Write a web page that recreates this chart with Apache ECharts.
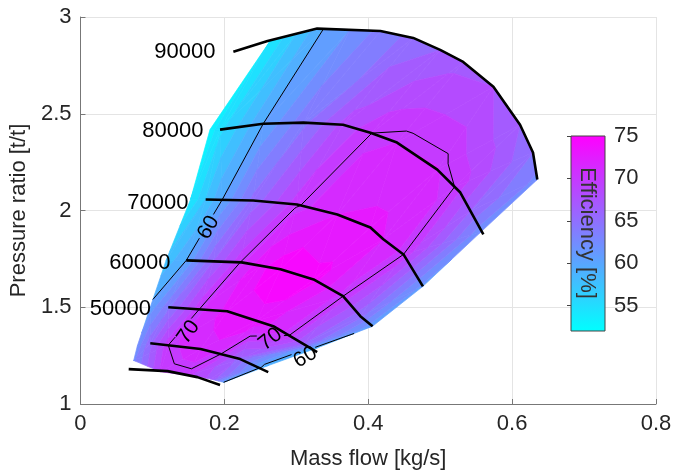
<!DOCTYPE html>
<html><head><meta charset="utf-8">
<script src="https://cdn.jsdelivr.net/npm/echarts@6/dist/echarts.min.js"></script>
<style>html,body{margin:0;padding:0;background:#fff}#c{width:677px;height:475px}</style>
</head><body><div id="c"></div>
<script>
// ---------- axis ticks ----------
const xTicks = [0, 0.2, 0.4, 0.6, 0.8];
const yTicks = [1, 1.5, 2, 2.5, 3];
const cbarTicks = [55, 60, 65, 70, 75];
const cbarRange = [52, 75];

// ---------- speed lines [mass flow, pressure ratio] ----------
const speed30 = [[0.067,1.180],[0.121,1.170],[0.1625,1.139],[0.194,1.098]];
const speed40 = [[0.097,1.314],[0.167,1.284],[0.222,1.232],[0.261,1.165]];
const speed50 = [[0.122,1.500],[0.204,1.479],[0.268,1.402],[0.329,1.268]];
const speed60 = [[0.147,1.742],[0.224,1.732],[0.278,1.696],[0.324,1.644],[0.365,1.557],[0.389,1.454],[0.406,1.402]];
const speed70 = [[0.174,2.057],[0.240,2.052],[0.301,2.031],[0.357,1.979],[0.403,1.912],[0.421,1.851],[0.449,1.773],[0.476,1.608]];
const speed80 = [[0.194,2.418],[0.254,2.448],[0.310,2.454],[0.365,2.443],[0.403,2.402],[0.440,2.351],[0.496,2.211],[0.528,2.093],[0.560,1.876]];
const speed90 = [[0.2125,2.820],[0.260,2.876],[0.329,2.940],[0.417,2.928],[0.4625,2.892],[0.500,2.830],[0.532,2.768],[0.574,2.639],[0.611,2.443],[0.629,2.300],[0.635,2.160]];

// speed line labels
const speedLabelText = ['50000','60000','70000','80000','90000'];
const speedLabelPos  = [[0.098,1.490],[0.125,1.727],[0.150,2.041],[0.171,2.412],[0.1875,2.820]];

// ---------- efficiency samples along each speed line [x, y, eff %] ----------
const eff30 = [[0.074,1.225,62.5],[0.111,1.167,69.2],[0.150,1.148,69.5],[0.181,1.129,67],[0.199,1.112,60]];
const eff40 = [[0.079,1.300,62],[0.097,1.314,65.5],[0.122,1.304,70],[0.167,1.284,71.5],[0.195,1.258,70],[0.222,1.232,65.5],[0.262,1.200,59]];
const eff50 = [[0.097,1.500,60.5],[0.122,1.500,64],[0.165,1.489,70],[0.204,1.479,72.5],[0.245,1.430,73],[0.290,1.354,70],[0.310,1.310,66],[0.329,1.290,59]];
const eff60 = [[0.119,1.742,57.5],[0.147,1.742,60],[0.185,1.738,66],[0.222,1.732,70],[0.250,1.715,73],[0.278,1.696,74.5],[0.324,1.644,74],[0.365,1.557,70],[0.389,1.454,65],[0.406,1.402,60.5]];
const eff70 = [[0.153,2.057,54],[0.174,2.057,57],[0.197,2.056,60],[0.240,2.052,65],[0.301,2.031,69.8],[0.357,1.979,72],[0.403,1.912,72.5],[0.421,1.851,72],[0.449,1.773,70],[0.476,1.608,61]];
const eff80 = [[0.180,2.418,53],[0.194,2.418,55],[0.254,2.448,60],[0.310,2.454,64],[0.365,2.443,68],[0.405,2.400,70],[0.440,2.351,70.5],[0.496,2.211,70.6],[0.520,2.122,70],[0.542,1.998,66],[0.556,1.887,62]];
const eff90 = [[0.264,2.878,54],[0.300,2.913,57],[0.338,2.940,60],[0.375,2.935,61.5],[0.417,2.928,63.5],[0.4625,2.892,65],[0.500,2.830,66],[0.532,2.768,67],[0.574,2.639,67.5],[0.611,2.443,66],[0.629,2.300,64.5],[0.635,2.160,62.5]];

// contour lines and their labels
const contourLevels = [60, 70];
const contourLabelText = ['60','70','70','60'];
const contourLabelPos  = [[0.178,1.912,60],[0.150,1.371,55],[0.264,1.335,38],[0.3125,1.242,30]];

// filled-contour level spacing (%)
const bandStep = 1.5;
const bandAnchor = 60;

// ---------- helpers ----------
const FONT = '"Liberation Sans", Arial, Helvetica, sans-serif';
const TXT = '#262626';
function cool(v){
  let t = (v - cbarRange[0]) / (cbarRange[1] - cbarRange[0]);
  t = Math.max(0, Math.min(1, t));
  return 'rgb(' + Math.round(255*t) + ',' + Math.round(255*(1-t)) + ',255)';
}
const bands = [];
{
  let L = bandAnchor;
  while (L - bandStep > cbarRange[0]) L -= bandStep;
  bands.push({lo:-Infinity, hi:L, color:cool((cbarRange[0] + L) / 2)});
  while (L < cbarRange[1]) {
    const hi = L + bandStep;
    bands.push({lo:L, hi:(hi >= cbarRange[1] ? Infinity : hi), color:cool(Math.min(L + bandStep/2, cbarRange[1]))});
    L = hi;
  }
}
function rowParams(r){
  const s = [0];
  for (let i = 1; i < r.length; i++) {
    s.push(s[i-1] + Math.hypot((r[i][0]-r[i-1][0])*720, (r[i][1]-r[i-1][1])*194));
  }
  const T = s[s.length-1];
  return s.map(v => v / T);
}
function stitch(A, B, out){
  const sa = rowParams(A), sb = rowParams(B);
  let i = 0, j = 0;
  while (i < A.length-1 || j < B.length-1) {
    if (i === A.length-1 || (j < B.length-1 && sb[j+1] <= sa[i+1])) {
      out.push([...A[i], ...B[j+1], ...B[j]]); j++;
    } else {
      out.push([...A[i], ...A[i+1], ...B[j]]); i++;
    }
  }
}
const rows = [eff30, eff40, eff50, eff60, eff70, eff80, eff90];
const tris = [];
for (let k = 0; k < rows.length-1; k++) stitch(rows[k], rows[k+1], tris);

function clip(poly, L, above){
  const out = [];
  for (let i = 0; i < poly.length; i++) {
    const a = poly[i], b = poly[(i+1) % poly.length];
    const ia = above ? a[2] >= L : a[2] <= L;
    const ib = above ? b[2] >= L : b[2] <= L;
    if (ia) out.push(a);
    if (ia !== ib) {
      const t = (L - a[2]) / (b[2] - a[2]);
      out.push([a[0]+t*(b[0]-a[0]), a[1]+t*(b[1]-a[1]), L]);
    }
  }
  return out;
}
function triPts(api){
  return [0,1,2].map(k => {
    const c = api.coord([api.value(3*k), api.value(3*k+1)]);
    return [c[0], c[1], api.value(3*k+2)];
  });
}
function renderFill(params, api){
  const P = triPts(api);
  const ch = [];
  for (const b of bands) {
    let p = P;
    if (isFinite(b.lo)) p = clip(p, b.lo, true);
    if (p.length < 3) continue;
    if (isFinite(b.hi)) p = clip(p, b.hi, false);
    if (p.length < 3) continue;
    ch.push({type:'polygon', shape:{points:p.map(q => [q[0], q[1]])},
      style:{fill:b.color, stroke:b.color, lineWidth:0.7}});
  }
  return {type:'group', children:ch};
}
// gaps in contour lines under their labels
const GAP_R = 14;
function cutSegment(p0, p1, centers){
  let pieces = [[0, 1]];
  const dx = p1[0]-p0[0], dy = p1[1]-p0[1];
  const A = dx*dx + dy*dy;
  if (A < 1e-9) return [];
  for (const c of centers) {
    const fx = p0[0]-c[0], fy = p0[1]-c[1];
    const B = 2*(fx*dx + fy*dy), C = fx*fx + fy*fy - GAP_R*GAP_R;
    const D = B*B - 4*A*C;
    if (D <= 0) continue;
    const t1 = (-B - Math.sqrt(D)) / (2*A), t2 = (-B + Math.sqrt(D)) / (2*A);
    const next = [];
    for (const [a, b] of pieces) {
      if (t1 > a) next.push([a, Math.min(b, t1)]);
      if (t2 < b) next.push([Math.max(a, t2), b]);
    }
    pieces = next.filter(([a, b]) => b - a > 1e-6);
  }
  return pieces.map(([a, b]) => [[p0[0]+a*dx, p0[1]+a*dy], [p0[0]+b*dx, p0[1]+b*dy]]);
}
function renderContour(params, api){
  const P = triPts(api);
  const centers = contourLabelPos.map(p => api.coord([p[0], p[1]]));
  const ch = [];
  for (const L0 of contourLevels) {
    const L = L0 + 1e-4, pts = [];
    for (let e = 0; e < 3; e++) {
      const a = P[e], b = P[(e+1)%3];
      if ((a[2]-L)*(b[2]-L) < 0) {
        const t = (L - a[2]) / (b[2] - a[2]);
        pts.push([a[0]+t*(b[0]-a[0]), a[1]+t*(b[1]-a[1])]);
      }
    }
    if (pts.length === 2) {
      for (const s of cutSegment(pts[0], pts[1], centers)) {
        ch.push({type:'line', shape:{x1:s[0][0],y1:s[0][1],x2:s[1][0],y2:s[1][1]},
          style:{stroke:'#000', lineWidth:1}});
      }
    }
  }
  return {type:'group', children:ch};
}

const speedSeries = [speed30, speed40, speed50, speed60, speed70, speed80, speed90].map(d => ({
  type:'line', data:d, showSymbol:false, symbol:'none', silent:true, z:5,
  lineStyle:{color:'#000', width:2.6}, xAxisIndex:0, yAxisIndex:0
}));

const chart = echarts.init(document.getElementById('c'), null, {renderer:'canvas'});
chart.setOption({
  animation:false,
  backgroundColor:'#fff',
  grid:[
    {left:80, right:21, top:17, bottom:71},
    {left:571, top:136, width:34, height:195}
  ],
  xAxis:[
    {type:'value', gridIndex:0, min:xTicks[0], max:xTicks[xTicks.length-1], interval:xTicks[1]-xTicks[0],
     name:'Mass flow [kg/s]', nameLocation:'middle', nameGap:44,
     nameTextStyle:{fontFamily:FONT, fontSize:22, color:TXT},
     axisLine:{lineStyle:{color:'#777', width:1}},
     axisTick:{inside:true, length:5, lineStyle:{color:'#777'}},
     axisLabel:{fontFamily:FONT, fontSize:22, color:TXT, margin:9},
     splitLine:{show:true, lineStyle:{color:'#e4e4e4', width:1}}},
    {type:'value', gridIndex:1, min:0, max:1, show:false}
  ],
  yAxis:[
    {type:'value', gridIndex:0, min:yTicks[0], max:yTicks[yTicks.length-1], interval:yTicks[1]-yTicks[0],
     name:'Pressure ratio [t/t]', nameLocation:'middle', nameGap:37,
     nameTextStyle:{fontFamily:FONT, fontSize:22, color:TXT},
     axisLine:{show:true, lineStyle:{color:'#777', width:1}},
     axisTick:{show:true, inside:true, length:5, lineStyle:{color:'#777'}},
     axisLabel:{fontFamily:FONT, fontSize:22, color:TXT, margin:9},
     splitLine:{show:true, lineStyle:{color:'#e4e4e4', width:1}}},
    {type:'value', gridIndex:1, min:cbarRange[0], max:cbarRange[1], position:'right', z:10,
     axisLine:{show:false},
     axisTick:{show:true, inside:true, length:4, lineStyle:{color:'#444'}, customValues:cbarTicks},
     axisLabel:{fontFamily:FONT, fontSize:22, color:TXT, margin:9, customValues:cbarTicks},
     splitLine:{show:false}}
  ],
  graphic:[
    {type:'text', x:587, y:233, rotation:-Math.PI/2, z:100,
     style:{text:'Efficiency [%]', fill:'#333', font:'22px ' + FONT, align:'center', verticalAlign:'middle'}}
  ],
  series:[
    {type:'custom', xAxisIndex:0, yAxisIndex:0, data:tris, renderItem:renderFill, silent:true, z:1},
    {type:'custom', xAxisIndex:0, yAxisIndex:0, data:tris, renderItem:renderContour, silent:true, z:3},
    ...speedSeries,
    {type:'custom', xAxisIndex:0, yAxisIndex:0, data:speedLabelPos, silent:true, z:6,
     renderItem:(params, api) => {
       const c = api.coord([api.value(0), api.value(1)]);
       return {type:'text', x:c[0], y:c[1], style:{text:speedLabelText[params.dataIndex], fill:'#000',
         font:'22px ' + FONT, align:'right', verticalAlign:'middle'}};
     }},
    {type:'custom', xAxisIndex:0, yAxisIndex:0, data:contourLabelPos, silent:true, z:6,
     renderItem:(params, api) => {
       const c = api.coord([api.value(0), api.value(1)]);
       return {type:'text', x:c[0], y:c[1], rotation:api.value(2)*Math.PI/180,
         style:{text:contourLabelText[params.dataIndex], fill:'#000',
         font:'21px ' + FONT, align:'center', verticalAlign:'middle'}};
     }},
    {type:'custom', xAxisIndex:1, yAxisIndex:1, data:[[0, cbarRange[0], 1, cbarRange[1]]], silent:true, z:1,
     renderItem:(params, api) => {
       const p0 = api.coord([api.value(0), api.value(3)]);
       const p1 = api.coord([api.value(2), api.value(1)]);
       return {type:'rect', shape:{x:p0[0], y:p0[1], width:p1[0]-p0[0], height:p1[1]-p0[1]},
         style:{fill:new echarts.graphic.LinearGradient(0,0,0,1,[{offset:0,color:cool(cbarRange[1])},{offset:1,color:cool(cbarRange[0])}]),
         stroke:'#444', lineWidth:1}};
     }}
  ]
});
</script></body></html>
